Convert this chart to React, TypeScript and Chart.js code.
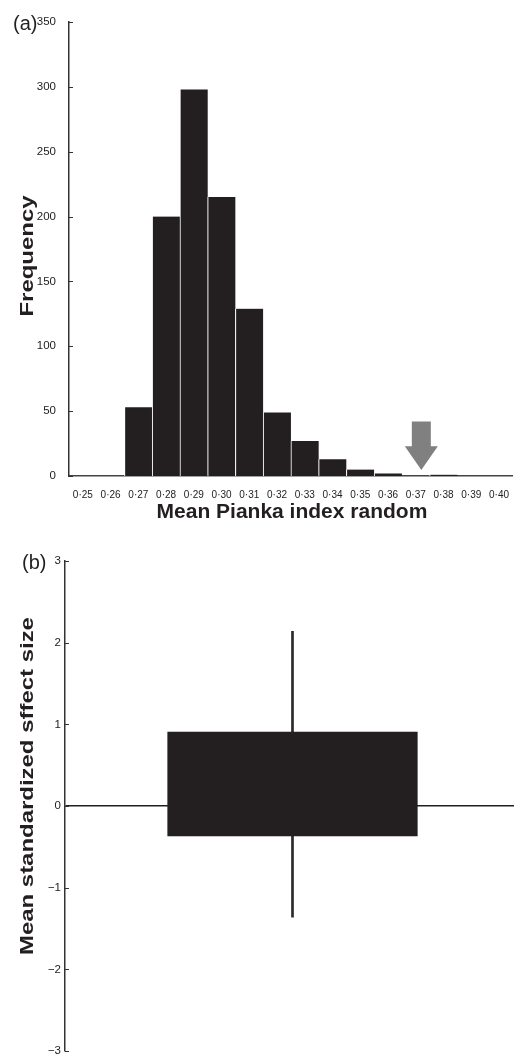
import React, { useEffect, useRef } from 'react';
import { Chart, registerables } from 'chart.js';

Chart.register(...registerables);

// ---------- data ----------
const binLabels = ['0·25', '0·26', '0·27', '0·28', '0·29', '0·30', '0·31', '0·32', '0·33', '0·34', '0·35', '0·36', '0·37', '0·38', '0·39', '0·40'];
const frequencies = [0, 0, 53, 200, 298, 215, 129, 49, 27, 13, 5, 2, 0, 1, 0, 0];
const freqMin = 0;
const freqMax = 350;
const freqStep = 50;
const observedBinPosition = 12.2; // observed value 0·372 on the bin axis
const arrowShaftTop = 42;
const arrowHeadBase = 23;
const arrowTip = 4.6;

const effectLabels = [''];
const boxRange = [-0.37, 0.91];
const whiskerRange = [-1.36, 2.14];
const effectMin = -3;
const effectMax = 3;
const effectStep = 1;

const FONT = '"Liberation Sans", Arial, Helvetica, sans-serif';
const INK = '#231f20';

const inwardTicks = {
  id: 'inwardTicks',
  afterDraw(chart: any) {
    const y = chart.scales.y;
    const ctx = chart.ctx;
    const left = chart.chartArea.left;
    ctx.save();
    ctx.strokeStyle = '#333';
    ctx.lineWidth = 1;
    y.ticks.forEach((t: any) => {
      const py = Math.round(y.getPixelForValue(t.value)) + 0.5;
      ctx.beginPath();
      ctx.moveTo(left, py);
      ctx.lineTo(left + 4, py);
      ctx.stroke();
    });
    ctx.restore();
  },
};

function textPlugin(panel: string, panelX: number, yTitle: string, yTitleOffset: number, xTitle?: string) {
  return {
    id: 'texts',
    afterDraw(chart: any) {
      const ctx = chart.ctx;
      const area = chart.chartArea;
      ctx.save();
      ctx.fillStyle = INK;
      ctx.font = `20px ${FONT}`;
      ctx.textAlign = 'left';
      ctx.textBaseline = 'middle';
      ctx.fillText(panel, panelX, area.top + 2);
      ctx.save();
      ctx.translate(33, (area.top + area.bottom) / 2 + yTitleOffset);
      ctx.rotate(-Math.PI / 2);
      ctx.scale(1.33, 1);
      ctx.font = `bold 18px ${FONT}`;
      ctx.textAlign = 'center';
      ctx.textBaseline = 'alphabetic';
      ctx.fillText(yTitle, 0, 0);
      ctx.restore();
      if (xTitle) {
        ctx.font = `bold 21px ${FONT}`;
        ctx.textAlign = 'center';
        ctx.textBaseline = 'alphabetic';
        ctx.fillText(xTitle, (area.left + area.right) / 2 + 1, area.bottom + 42);
      }
      ctx.restore();
    },
  };
}

const arrowPlugin = {
  id: 'arrow',
  afterDatasetsDraw(chart: any) {
    const x = chart.scales.x;
    const y = chart.scales.y;
    const ctx = chart.ctx;
    const cx = x.getPixelForValue(observedBinPosition);
    const yTop = y.getPixelForValue(arrowShaftTop);
    const yBase = y.getPixelForValue(arrowHeadBase);
    const yTip = y.getPixelForValue(arrowTip);
    ctx.save();
    ctx.fillStyle = '#808080';
    ctx.beginPath();
    ctx.moveTo(cx - 9.5, yTop);
    ctx.lineTo(cx + 9.5, yTop);
    ctx.lineTo(cx + 9.5, yBase);
    ctx.lineTo(cx + 16.5, yBase);
    ctx.lineTo(cx, yTip);
    ctx.lineTo(cx - 16.5, yBase);
    ctx.lineTo(cx - 9.5, yBase);
    ctx.closePath();
    ctx.fill();
    ctx.restore();
  },
};

function HistogramPanel() {
  const ref = useRef<HTMLCanvasElement | null>(null);
  useEffect(() => {
    if (!ref.current) return;
    const chart = new Chart(ref.current, {
      type: 'bar',
      data: {
        labels: binLabels,
        datasets: [
          {
            data: frequencies,
            backgroundColor: INK,
            borderColor: '#ffffff',
            borderWidth: { left: 1, right: 0, top: 0, bottom: 0 } as any,
            borderSkipped: false,
            barPercentage: 1,
            categoryPercentage: 1,
          },
        ],
      },
      options: {
        responsive: false,
        animation: false,
        layout: { padding: { top: 22, left: 0, right: 0, bottom: 0 } },
        plugins: { legend: { display: false }, tooltip: { enabled: false } },
        scales: {
          x: {
            type: 'category',
            grid: { display: false },
            border: { display: true, color: '#444', width: 1.5 },
            ticks: {
              color: '#222',
              font: { family: FONT, size: 10 },
              padding: 5,
              maxRotation: 0,
              autoSkip: false,
            },
            afterFit: (s: any) => {
              s.height = 64;
            },
          },
          y: {
            min: freqMin,
            max: freqMax,
            grid: { display: false },
            border: { display: true, color: '#333', width: 1.5 },
            ticks: {
              stepSize: freqStep,
              color: '#222',
              font: { family: FONT, size: 11.5 },
              padding: 5,
            },
            afterFit: (s: any) => {
              s.width = 69;
            },
          },
        },
      },
      plugins: [inwardTicks, arrowPlugin, textPlugin('(a)', 13, 'Frequency', 7, 'Mean Pianka index random')],
    } as any);
    return () => chart.destroy();
  }, []);
  return <canvas ref={ref} width={514} height={540} style={{ display: 'block', width: 514, height: 540 }} />;
}

function EffectPanel() {
  const ref = useRef<HTMLCanvasElement | null>(null);
  useEffect(() => {
    if (!ref.current) return;
    const chart = new Chart(ref.current, {
      type: 'bar',
      data: {
        labels: effectLabels,
        datasets: [
          {
            data: [boxRange],
            backgroundColor: INK,
            borderWidth: 0,
            barPercentage: 0.55,
            categoryPercentage: 1,
            grouped: false,
            order: 1,
          },
          {
            data: [whiskerRange],
            backgroundColor: '#2a2a2a',
            borderWidth: 0,
            barThickness: 2,
            grouped: false,
            order: 2,
          },
        ],
      },
      options: {
        responsive: false,
        animation: false,
        layout: { padding: { top: 21, left: 0, right: 0, bottom: 5 } },
        plugins: { legend: { display: false }, tooltip: { enabled: false } },
        scales: {
          x: { type: 'category', display: false },
          y: {
            min: effectMin,
            max: effectMax,
            grid: {
              display: true,
              drawTicks: false,
              color: (c: any) => (c.tick && c.tick.value === 0 ? INK : 'rgba(0,0,0,0)'),
              lineWidth: 1.5,
            },
            border: { display: true, color: '#333', width: 1.5 },
            ticks: {
              stepSize: effectStep,
              color: '#222',
              font: { family: FONT, size: 11.5 },
              padding: 4,
              callback: (v: any) => (Number(v) < 0 ? '\u2212' + Math.abs(Number(v)) : String(v)),
            },
            afterFit: (s: any) => {
              s.width = 65;
            },
          },
        },
      },
      plugins: [inwardTicks, textPlugin('(b)', 22, 'Mean standardized sffect size', -20)],
    } as any);
    return () => chart.destroy();
  }, []);
  return <canvas ref={ref} width={520} height={522} style={{ display: 'block', width: 520, height: 522 }} />;
}

export default function App() {
  return (
    <div style={{ position: 'absolute', left: 0, top: 0, width: 514, height: 1062, overflow: 'hidden', background: '#ffffff' }}>
      <HistogramPanel />
      <EffectPanel />
    </div>
  );
}
